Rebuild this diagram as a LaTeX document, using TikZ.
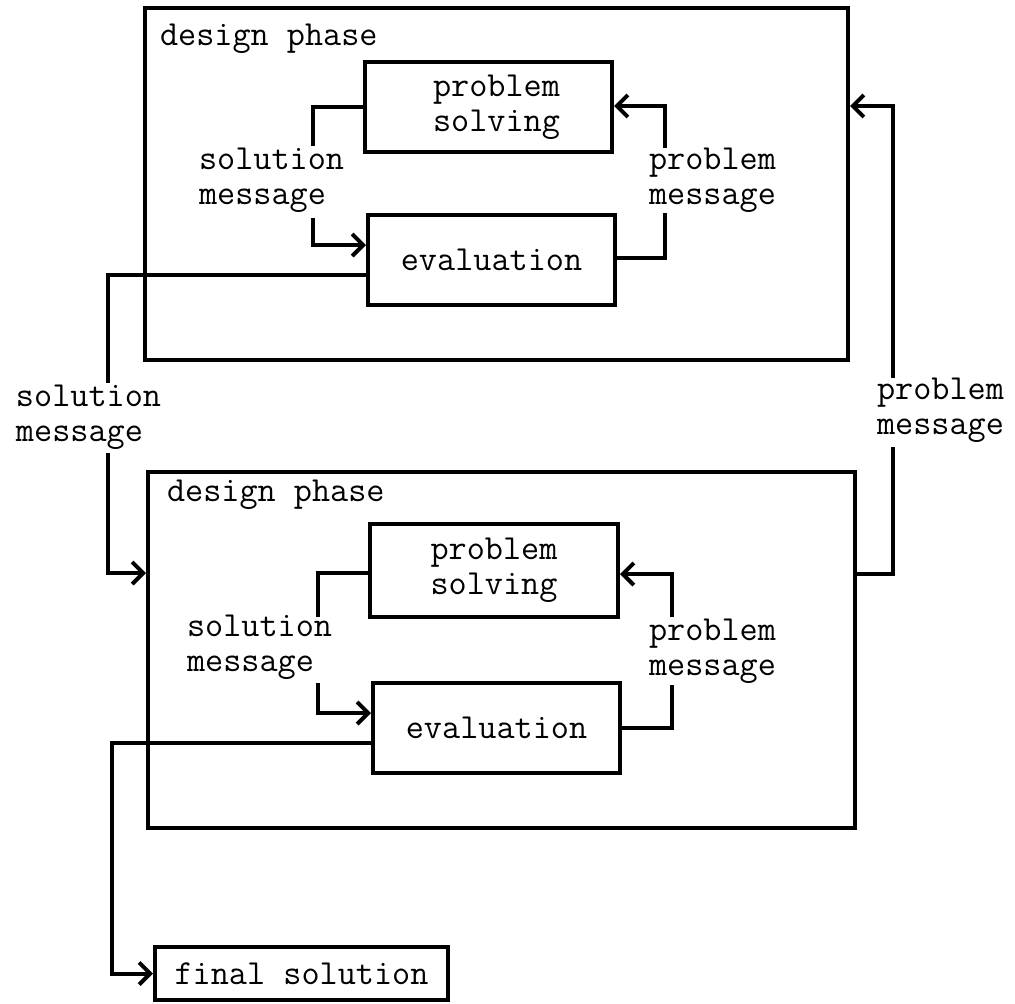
\documentclass[tikz,border=0pt]{standalone}
\usepackage{fontspec}
\usetikzlibrary{arrows.meta}
\begin{document}
\begin{tikzpicture}[x=0.5pt,y=-0.5pt,line width=2pt,
  txt/.style={font=\ttfamily\fontsize{17.6}{17.6}\selectfont},
  box/.style={draw,line width=2pt,inner sep=0pt,txt,align=center},
  lbl/.style={inner sep=0pt,txt,align=left,anchor=west},
  arr/.style={-{Straight Barb[length=5.5pt,width=11pt]}}]
\useasboundingbox (0,0) rectangle (1015,1003);

% boxes
\node[box,minimum width=351.5pt,minimum height=176pt] (outerA) at (496.5,184) {};
\node[box,minimum width=123.5pt,minimum height=45pt] (psA) at (488.5,107) {\hspace*{8pt}problem\\\hspace*{8pt}solving};
\node[box,minimum width=123.5pt,minimum height=45pt] (evalA) at (491.5,260) {evaluation};
\node[box,minimum width=353.5pt,minimum height=178pt] (outerB) at (501.5,650) {};
\node[box,minimum width=124pt,minimum height=46.5pt] (psB) at (494,570.5) {problem\\solving};
\node[box,minimum width=123.5pt,minimum height=45pt] (evalB) at (496.5,728) {evaluation};
\node[box,minimum width=146.5pt,minimum height=26.5pt] (final) at (301.5,973.5) {final solution};

% labels
\node[lbl,anchor=base west] (dA) at (158,45) {design phase};
\node[lbl,anchor=base west] (dB) at (165,501) {design phase};
\node[lbl] (lsA) at (197,180) {solution\\message};
\node[lbl] (lpA) at (647,180) {problem\\message};
\node[lbl] (lsO) at (14,417) {solution\\message};
\node[lbl] (lpO) at (875,410) {problem\\message};
\node[lbl] (lsB) at (185,647) {solution\\message};
\node[lbl] (lpB) at (647,651) {problem\\message};

% free ends
\coordinate (sAtop) at (313,146);
\coordinate (sAbot) at (313,218);
\coordinate (pAbot) at (665,213);
\coordinate (pAtop) at (665,148);
\coordinate (soTop) at (108,383);
\coordinate (soBot) at (108,453);
\coordinate (poBot) at (893,447);
\coordinate (poTop) at (893,378);
\coordinate (sBtop) at (318,617);
\coordinate (sBbot) at (318,683);
\coordinate (pBbot) at (672,685);
\coordinate (pBtop) at (672,617);
\coordinate (fcorner) at (112,900);

% connectors
\draw (psA.west) -| (sAtop);
\draw[arr] (sAbot) |- (evalA.west |- 0,245);
\draw (evalA.east |- 0,258) -| (pAbot);
\draw[arr] (pAtop) |- (psA.east |- 0,106);

\draw (evalA.west |- 0,275) -| (soTop);
\draw[arr] (soBot) |- (outerB.west |- 0,573);
\draw (outerB.east |- 0,574) -| (poBot);
\draw[arr] (poTop) |- (outerA.east |- 0,106);

\draw (psB.west |- 0,573) -| (sBtop);
\draw[arr] (sBbot) |- (evalB.west |- 0,713);
\draw (evalB.east |- 0,728) -| (pBbot);
\draw[arr] (pBtop) |- (psB.east |- 0,574);

\draw[arr] (evalB.west |- 0,743) -| (fcorner) |- (final.west);
\end{tikzpicture}
\end{document}
